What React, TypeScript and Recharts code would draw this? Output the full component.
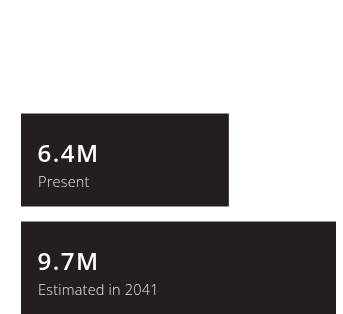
import { Bar, BarChart, LabelList, XAxis, YAxis } from "recharts"

const captions = ["Present", "Estimated in 2041"]
const values = [6.4, 9.7]
const valueLabels = ["6.4M", "9.7M"]

const data = captions.map((name, i) => ({ name, value: values[i], label: valueLabels[i] }))

const barColor = "#231f20"

function BarText(props: any) {
  const { x, y, index } = props
  const i = typeof index === "number" ? index : values.indexOf(props.value)
  return (
    <g>
      <text
        x={Number(x) + 16.5}
        y={Number(y) + 48.5}
        fill="#ffffff"
        fontFamily="'Open Sans', sans-serif"
        fontWeight={600}
        fontSize={24}
        letterSpacing={1.5}
      >
        {valueLabels[i]}
      </text>
      <text
        x={Number(x) + 17}
        y={Number(y) + 73}
        fill="#e6e6e6"
        fontFamily="'Open Sans', sans-serif"
        fontWeight={300}
        fontSize={14.5}
        letterSpacing={0.2}
      >
        {captions[i]}
      </text>
    </g>
  )
}

export default function App() {
  // fixed so the bottom bar can run to the window edge without a scrollbar
  return (
    <div style={{ position: "fixed", left: 0, top: 0, width: 343, height: 314, overflow: "hidden" }}>
      <BarChart
        width={343}
        height={321.5}
        data={data}
        layout="vertical"
        margin={{ top: 105.5, right: 7, bottom: 0, left: 21 }}
      >
        <XAxis type="number" domain={[0, 9.7]} hide />
        <YAxis type="category" dataKey="name" hide />
        <Bar dataKey="value" fill={barColor} barSize={93} isAnimationActive={false}>
          <LabelList dataKey="value" content={<BarText />} />
        </Bar>
      </BarChart>
    </div>
  )
}
